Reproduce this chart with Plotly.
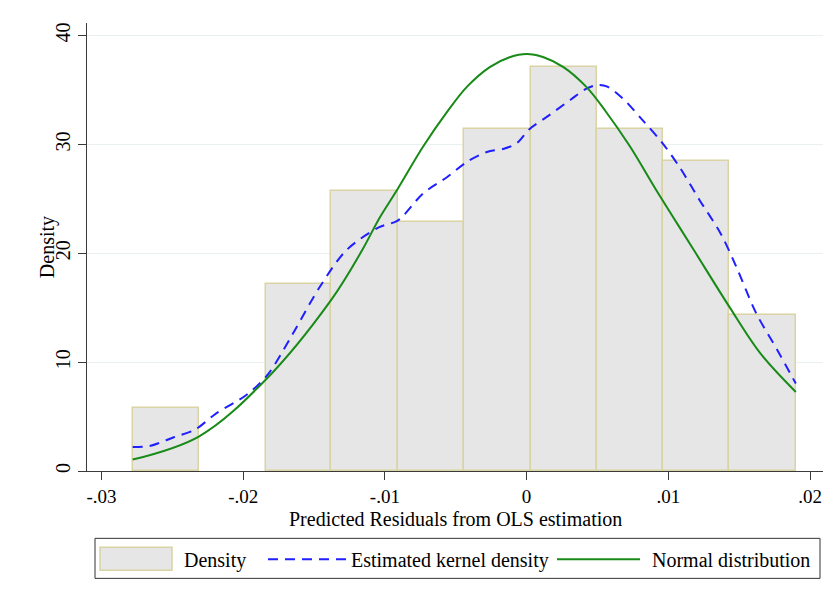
import plotly.graph_objects as go

# histogram bins (edges) and their densities
bin_edges = [-0.0278, -0.0231, -0.0184, -0.0138, -0.0091, -0.0044,
             0.0003, 0.0050, 0.0096, 0.0143, 0.0190]
bin_density = [5.76, None, 17.16, 25.7, 22.86, 31.4, 37.1, 31.4, 28.5, 14.34]

# estimated kernel density (dashed blue)
kde_x = [-0.0278, -0.0266, -0.0249, -0.0234, -0.0219, -0.0198, -0.0183,
         -0.0165, -0.0146, -0.0127, -0.0104, -0.0091, -0.0073, -0.0056,
         -0.0042, -0.0028, -0.0016, -0.0007, 0.0002, 0.0014, 0.0031,
         0.0042, 0.0050, 0.0057, 0.0068, 0.0082, 0.0096, 0.0108, 0.0122,
         0.0137, 0.0148, 0.0162, 0.0177, 0.0190]
kde_y = [2.2, 2.3, 3.1, 3.8, 5.3, 6.96, 8.8,
         12.6, 16.9, 20.3, 22.4, 23.0, 25.5, 27.0,
         28.4, 29.3, 29.6, 30.1, 31.4, 32.5, 34.1,
         35.1, 35.45, 35.3, 34.2, 32.2, 30.1, 27.9, 24.9,
         21.8, 18.75, 14.5, 11.1, 8.03]

# normal distribution (solid green)
norm_x = [-0.0278, -0.0231, -0.0185, -0.0138, -0.0116, -0.0104, -0.0091,
          -0.0073, -0.0056, -0.0042, -0.0026, -0.0012, 0.0000, 0.0012, 0.0026,
          0.0042, 0.0056, 0.0073, 0.0091, 0.0104, 0.0118, 0.0143, 0.0165, 0.0190]
norm_y = [1.05, 3.19, 8.27, 15.7, 20.3, 23.2, 25.9,
          29.8, 33.0, 35.3, 37.1, 38.0, 38.3, 38.0, 37.1,
          35.3, 33.0, 29.8, 25.9, 23.2, 20.3, 15.1, 10.8, 7.26]

x_ticks = [-0.03, -0.02, -0.01, 0, 0.01, 0.02]
x_ticktext = ['-.03', '-.02', '-.01', '0', '.01', '.02']
y_ticks = [0, 10, 20, 30, 40]

FONT = 'Liberation Serif'
FS = 20
BAR_FILL = '#e6e6e6'
BAR_LINE = '#dad3a4'
BLUE = '#1f1fff'
GREEN = '#178a17'

centers = [(a + b) / 2 for a, b in zip(bin_edges[:-1], bin_edges[1:])]
widths = [b - a for a, b in zip(bin_edges[:-1], bin_edges[1:])]

fig = go.Figure()
fig.add_trace(go.Bar(x=centers, y=bin_density, width=widths, name='Density',
                     marker=dict(color=BAR_FILL, line=dict(color=BAR_LINE, width=1.5)),
                     showlegend=False))
fig.add_trace(go.Scatter(x=kde_x, y=kde_y, mode='lines', name='Estimated kernel density',
                         line=dict(color=BLUE, width=2, dash='10px,7px', shape='spline',
                                   smoothing=0.9),
                         showlegend=False))
fig.add_trace(go.Scatter(x=norm_x, y=norm_y, mode='lines', name='Normal distribution',
                         line=dict(color=GREEN, width=2, shape='spline'),
                         showlegend=False))

# plot area in page pixels; the page body adds an 8px offset
OFF = 8
L, R, T, B = 87, 823, 23, 470.7
W, H = R - L, B - T


def px(x):
    return (x - L) / W


def py(y):
    return (B - y) / H


shapes = [
    # legend frame
    dict(type='rect', xref='paper', yref='paper', x0=px(95), x1=px(820),
         y0=py(538), y1=py(578), line=dict(color='#333333', width=1), fillcolor='white'),
    dict(type='rect', xref='paper', yref='paper', x0=px(100), x1=px(172),
         y0=py(547), y1=py(570), line=dict(color=BAR_LINE, width=1.5), fillcolor=BAR_FILL),
    dict(type='line', xref='paper', yref='paper', x0=px(268), x1=px(346),
         y0=py(559), y1=py(559), line=dict(color=BLUE, width=2, dash='10px,7px')),
    dict(type='line', xref='paper', yref='paper', x0=px(557), x1=px(640),
         y0=py(559), y1=py(559), line=dict(color=GREEN, width=2)),
]

annotations = [
    dict(text='Predicted Residuals from OLS estimation', xref='paper', yref='paper',
         x=0.5, y=py(519), xanchor='center', yanchor='middle', showarrow=False,
         font=dict(family=FONT, size=FS)),
    dict(text='Density', xref='paper', yref='paper', x=px(47), y=py(247),
         xanchor='center', yanchor='middle', textangle=-90, showarrow=False,
         font=dict(family=FONT, size=FS)),
    dict(text='Density', xref='paper', yref='paper', x=px(182), y=py(560),
         xanchor='left', yanchor='middle', showarrow=False, font=dict(family=FONT, size=FS)),
    dict(text='Estimated kernel density', xref='paper', yref='paper', x=px(349), y=py(560),
         xanchor='left', yanchor='middle', showarrow=False, font=dict(family=FONT, size=FS)),
    dict(text='Normal distribution', xref='paper', yref='paper', x=px(650), y=py(560),
         xanchor='left', yanchor='middle', showarrow=False, font=dict(family=FONT, size=FS)),
]

fig.update_layout(
    width=831, height=601,
    margin=dict(l=L - OFF, r=831 - (R - OFF), t=T - OFF, b=601 - (B - OFF)),
    paper_bgcolor='white', plot_bgcolor='white',
    font=dict(family=FONT, size=FS, color='black'),
    bargap=0, showlegend=False,
    shapes=shapes, annotations=annotations,
)
fig.update_xaxes(range=[(L - 526.6) / 14170, (R - 526.6) / 14170],
                 tickvals=x_ticks, ticktext=x_ticktext,
                 tickfont=dict(size=19),
                 showline=True, linecolor='#3a3a3a', linewidth=1.2,
                 ticks='outside', ticklen=8, tickcolor='#3a3a3a',
                 showgrid=False, zeroline=False)
fig.update_yaxes(range=[0, (B - T) / 10.88],
                 tickvals=y_ticks, tickangle=-90,
                 showline=True, linecolor='#3a3a3a', linewidth=1.2,
                 ticks='outside', ticklen=8, tickcolor='#3a3a3a',
                 showgrid=True, gridcolor='#e8f0f2', gridwidth=1, zeroline=False)

fig.write_html("out.html")
